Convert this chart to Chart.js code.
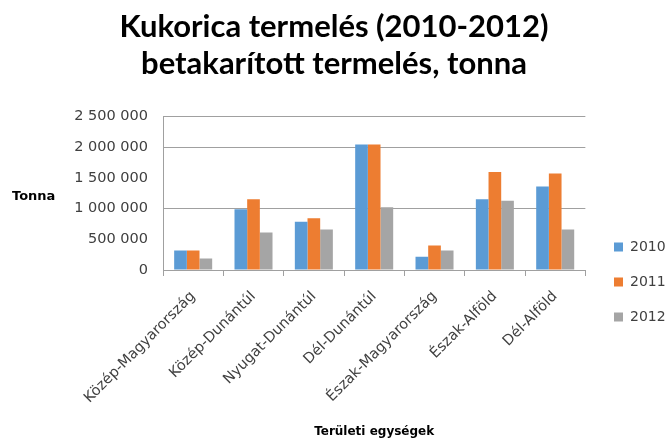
<!DOCTYPE html>
<html>
<head>
<meta charset="utf-8">
<script src="https://cdn.jsdelivr.net/npm/chart.js@4"></script>
<style>
html,body{margin:0;padding:0;background:#fff}
</style>
</head>
<body>
<canvas id="myChart" width="671" height="441"></canvas>
<script>
var regions=['Közép-Magyarország','Közép-Dunántúl','Nyugat-Dunántúl','Dél-Dunántúl','Észak-Magyarország','Észak-Alföld','Dél-Alföld'];
var years=['2010','2011','2012'];
var v2010=[318000,990000,787000,2041000,216000,1150000,1361000];
var v2011=[318000,1150000,842000,2041000,399000,1597000,1571000];
var v2012=[188000,609000,658000,1020000,318000,1128000,658000];
var yMax=2500000, yStep=500000;
var hiddenGrid=[500000,1500000];
var colors=['#5B9BD5','#ED7D31','#A5A5A5'];

function fmt(v){
  return String(v).replace(/\B(?=(\d{3})+(?!\d))/g,' ');
}

// "Tonna" sits horizontally left of the axis, and the legend is pushed down like in Excel
var extras={
  id:'extras',
  afterLayout:function(chart){
    var lg=chart.legend;
    var w=lg.width,h=lg.height;
    lg.left=593; lg.right=lg.left+w;
    lg.top=219; lg.bottom=lg.top+h;
  },
  afterDraw:function(chart){
    var c=chart.ctx;
    c.save();
    c.font='bold 13px "DejaVu Sans"';
    c.fillStyle='#000';
    c.textBaseline='middle';
    c.textAlign='left';
    c.fillText('Tonna',12,197);
    c.restore();
  }
};

var ctx=document.getElementById('myChart');
var myChart=new Chart(ctx,{
  type:'bar',
  data:{
    labels:regions,
    datasets:[
      {label:years[0],data:v2010,backgroundColor:colors[0]},
      {label:years[1],data:v2011,backgroundColor:colors[1]},
      {label:years[2],data:v2012,backgroundColor:colors[2]}
    ]
  },
  options:{
    responsive:false,
    animation:false,
    datasets:{bar:{categoryPercentage:0.63,barPercentage:1.0}},
    layout:{padding:{left:0,right:3,top:0,bottom:2}},
    plugins:{
      title:{
        display:true,
        text:['Kukorica termelés (2010-2012)','betakarított termelés, tonna'],
        font:{family:'Lato',size:31,weight:'bold',lineHeight:1.2},
        color:'#000',
        padding:{top:8,bottom:34}
      },
      legend:{
        position:'right',
        align:'start',
        labels:{
          boxWidth:9,boxHeight:9,padding:21,
          font:{family:'DejaVu Sans',size:14},
          color:'#404040'
        }
      },
      tooltip:{enabled:false}
    },
    scales:{
      x:{
        afterFit:function(s){s.height=169;},
        grid:{drawOnChartArea:false,offset:true,tickLength:6,color:'#a0a0a0'},
        border:{color:'#a0a0a0'},
        ticks:{maxRotation:45,minRotation:45,color:'#404040',font:{family:'DejaVu Sans',size:14.5},padding:12},
        title:{display:true,text:'Területi egységek',color:'#000',font:{family:'DejaVu Sans',size:12,weight:'bold'},padding:{top:0,bottom:0}}
      },
      y:{
        min:0,max:yMax,
        afterFit:function(s){s.width=163;},
        ticks:{stepSize:yStep,color:'#404040',font:{family:'DejaVu Sans',size:14.5},padding:15,callback:function(v){return fmt(v);}},
        grid:{
          drawTicks:false,
          color:function(c){
            if(c.tick && hiddenGrid.indexOf(c.tick.value)>=0) return 'rgba(0,0,0,0)';
            return '#a0a0a0';
          }
        },
        border:{color:'#a0a0a0'}
      }
    }
  },
  plugins:[extras]
});
</script>
</body>
</html>
